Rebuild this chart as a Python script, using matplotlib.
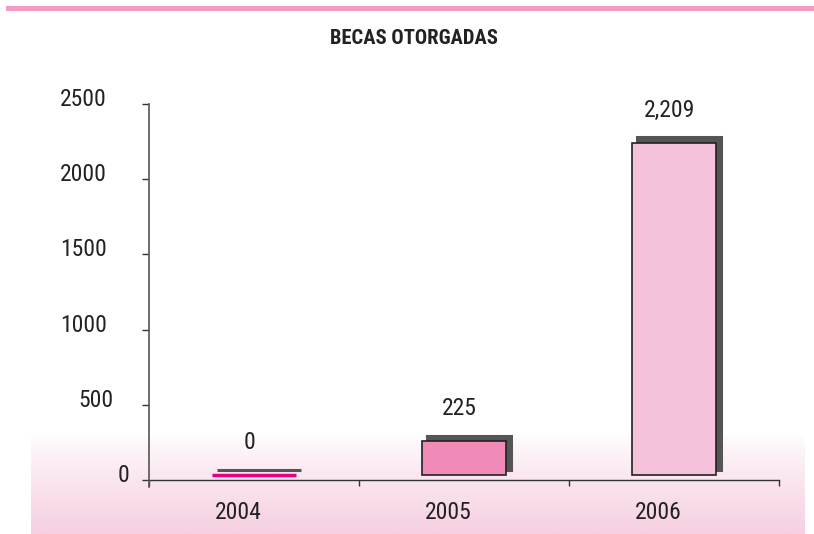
import numpy as np
import matplotlib
matplotlib.use("Agg")
import matplotlib.pyplot as plt
from matplotlib.patches import Rectangle
from matplotlib.transforms import ScaledTranslation

plt.rcParams['font.family'] = ['Roboto Condensed', 'Archivo Narrow', 'DejaVu Sans']

years = ["2004", "2005", "2006"]
becas = [0, 225, 2209]
labels = ["0", "225", "2,209"]
colors = ["#E6007E", "#F08AB6", "#F6C1DA"]
edges = ["#E6007E", "#222222", "#222222"]
yticks = [0, 500, 1000, 1500, 2000, 2500]

fig = plt.figure(figsize=(8.14, 5.34), dpi=100)

# background decoration (pixel coords)
bg = fig.add_axes([0, 0, 1, 1])
bg.set_xlim(0, 814)
bg.set_ylim(534, 0)
bg.axis('off')
grad = np.linspace(0, 1, 100).reshape(-1, 1)
top = np.array([1.0, 1.0, 1.0])
bot = np.array([246, 208, 226]) / 255
img = top + (bot - top) * grad[..., None] ** 0.8
bg.imshow(img, extent=(31, 805, 534, 433), aspect='auto', interpolation='bilinear')
bg.add_patch(Rectangle((6, 6), 808, 5, color='#F49BC3', lw=0))

fig.text(414 / 814, 1 - 39 / 534, "BECAS OTORGADAS", ha='center', va='center',
         fontsize=14.8, fontweight='bold', color='#222222')

ax = fig.add_axes([149 / 814, 54 / 534, 630 / 814, 376 / 534])
ax.patch.set_visible(False)
x = np.arange(len(years))
base = 33   # bars sit slightly above the axis
w = 0.4

# shadows
ax.bar(x + 0.026, becas, w, bottom=base + 36, color='#555555',
       edgecolor='#555555', linewidth=2.2, zorder=2)
ax.bar(x, becas, w, bottom=base, color=colors, edgecolor=edges,
       linewidth=[2.5, 1.2, 1.2], zorder=3)

for xi, v, lab in zip(x, becas, labels):
    ax.text(xi - 0.022, v + 250, lab, ha='center', va='center',
            fontsize=17, color='#222222')

ax.set_xlim(-0.5, 2.5)
ax.set_ylim(0, 2500)
ax.set_yticks(yticks)
ax.set_xticks([-0.5, 0.5, 1.5, 2.5])
ax.set_xticklabels([])
ax.set_xticks(x, minor=True)
ax.set_xticklabels(years, minor=True)
ax.tick_params(axis='x', which='major', length=4.5, width=1, color='#333333', direction='out')
ax.tick_params(axis='x', which='minor', length=0, pad=15, labelsize=17, labelcolor='#222222')
ax.tick_params(axis='y', length=5, width=1, color='#333333', pad=21, labelsize=17,
               labelcolor='#222222')

# label nudges in pixels, as in the original layout
y_dx = [16, 1, -6, -6, -6, -6]
for t, dx in zip(ax.get_yticklabels(), y_dx):
    t.set_transform(t.get_transform() + ScaledTranslation(dx / 100, 7 / 100, fig.dpi_scale_trans))
for t in ax.get_xticklabels(minor=True):
    t.set_transform(t.get_transform() + ScaledTranslation(-16 / 100, 0, fig.dpi_scale_trans))

for s in ['top', 'right']:
    ax.spines[s].set_visible(False)
ax.spines['left'].set_visible(False)
ax.plot([0, 0], [-0.019, 1], transform=ax.transAxes, color='#555555', lw=1.2,
        clip_on=False, zorder=4)
ax.spines['bottom'].set_color('#333333')
ax.spines['bottom'].set_linewidth(1)

fig.savefig("out.png", dpi=100)
